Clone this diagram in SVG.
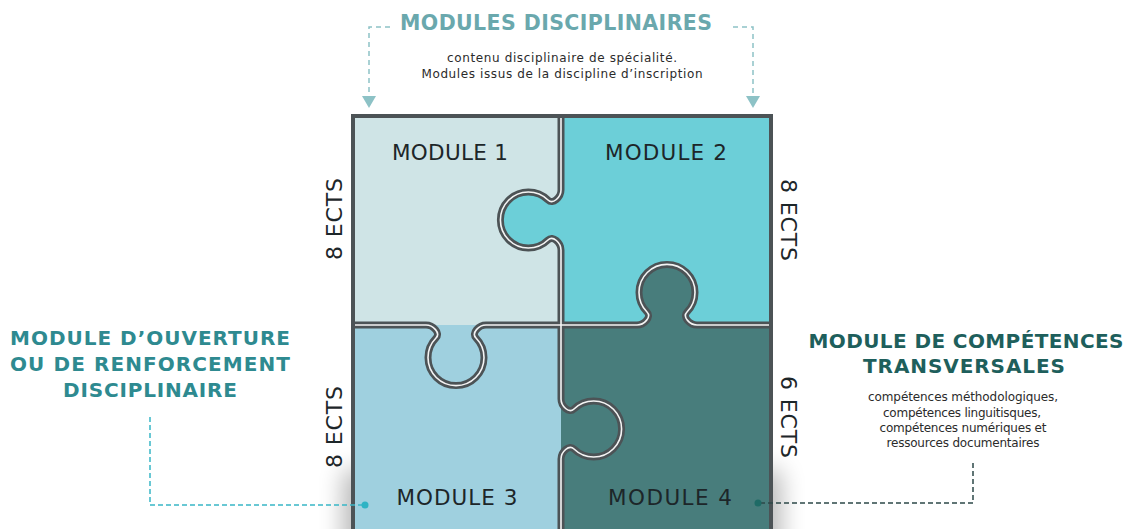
<svg xmlns="http://www.w3.org/2000/svg" width="1136" height="529" viewBox="0 0 1136 529">
<defs>
<style>
.mod{font-family:"DejaVu Sans","Liberation Sans",sans-serif;font-size:21.5px;fill:#1d2629;text-anchor:middle}
.ects{font-family:"DejaVu Sans","Liberation Sans",sans-serif;font-size:22px;fill:#1d2629;text-anchor:middle}
.title{font-family:"DejaVu Sans","Liberation Sans",sans-serif;font-weight:bold;font-size:20px;text-anchor:middle}
.small{font-family:"DejaVu Sans","Liberation Sans",sans-serif;font-size:12px;fill:#2b2b2b;text-anchor:middle}
.cutd{fill:none;stroke:#4c5356;stroke-width:7}
.cutw{fill:none;stroke:#f4f4f4;stroke-width:1.6}
.arrow{fill:#8dc2c6}
</style>
<filter id="blur" x="-50%" y="-50%" width="200%" height="200%"><feGaussianBlur stdDeviation="12"/></filter>
</defs>
<rect width="1136" height="529" fill="#ffffff"/>
<rect x="343" y="470" width="438" height="120" fill="#000" opacity="0.28" filter="url(#blur)"/>

<g id="header">
<text x="556" y="30" class="title" style="font-size:20.5px;fill:#6aa8ad" textLength="312">MODULES DISCIPLINAIRES</text>
<text x="562" y="62" class="small" textLength="230">contenu disciplinaire de spécialité.</text>
<text x="562" y="78" class="small" textLength="281">Modules issus de la discipline d’inscription</text>
</g>

<g id="puzzle">
<g id="module1">
<rect x="353" y="116" width="208" height="209" fill="#cfe4e6"/>
<path d="M456,325 H426 C433,325 441,333 436,338 A28,28 0 1 0 476,338 C471,333 479,325 486,325 Z" fill="#cfe4e6"/>
<text x="450" y="160" class="mod" textLength="116">MODULE 1</text>
</g>
<g id="module2">
<rect x="561" y="116" width="210" height="209" fill="#6ccfd8"/>
<path d="M561,190 C561,197 553,205 548,200 A28,28 0 1 0 548,240 C553,235 561,243 561,250 Z" fill="#6ccfd8"/>
<text x="666" y="160" class="mod" textLength="122">MODULE 2</text>
</g>
<g id="module3">
<rect x="353" y="325" width="208" height="240" fill="#9fd0df"/>
<path d="M561,399 C561,406 569,414 574,409 A28,28 0 1 1 574,449 C569,444 561,452 561,459 Z" fill="#9fd0df"/>
<text x="457" y="505" class="mod" textLength="121">MODULE 3</text>
</g>
<g id="module4">
<rect x="561" y="325" width="210" height="240" fill="#487d7c"/>
<path d="M637,325 C644,325 652,317 647,312 A28,28 0 1 1 687,312 C682,317 690,325 697,325 Z" fill="#487d7c"/>
<text x="670" y="505" class="mod" textLength="124">MODULE 4</text>
</g>
<g id="cuts">
<path class="cutd" d="M561,116 V190 C561,197 553,205 548,200 A28,28 0 1 0 548,240 C553,235 561,243 561,250 V325"/>
<path class="cutd" d="M561,325 H637 C644,325 652,317 647,312 A28,28 0 1 1 687,312 C682,317 690,325 697,325 H771"/>
<path class="cutd" d="M353,325 H426 C433,325 441,333 436,338 A28,28 0 1 0 476,338 C471,333 479,325 486,325 H561"/>
<path class="cutd" d="M561,325 V399 C561,406 569,414 574,409 A28,28 0 1 1 574,449 C569,444 561,452 561,459 V540"/>
<path class="cutw" d="M561,116 V190 C561,197 553,205 548,200 A28,28 0 1 0 548,240 C553,235 561,243 561,250 V325"/>
<path class="cutw" d="M561,325 H637 C644,325 652,317 647,312 A28,28 0 1 1 687,312 C682,317 690,325 697,325 H771"/>
<path class="cutw" d="M353,325 H426 C433,325 441,333 436,338 A28,28 0 1 0 476,338 C471,333 479,325 486,325 H561"/>
<path class="cutw" d="M561,325 V399 C561,406 569,414 574,409 A28,28 0 1 1 574,449 C569,444 561,452 561,459 V540"/>
</g>
<rect x="353" y="116" width="418" height="440" fill="none" stroke="#4c5356" stroke-width="4"/>
</g>

<g id="ects-labels">
<text class="ects" transform="translate(342,219) rotate(-90)" textLength="82">8 ECTS</text>
<text class="ects" transform="translate(342,427) rotate(-90)" textLength="82">8 ECTS</text>
<text class="ects" transform="translate(781,220) rotate(90)" textLength="82">8 ECTS</text>
<text class="ects" transform="translate(781,417) rotate(90)" textLength="82">6 ECTS</text>
</g>

<g id="label-ouverture">
<text x="150" y="345" class="title" style="fill:#2e8a90" textLength="280">MODULE D’OUVERTURE</text>
<text x="150" y="371" class="title" style="fill:#2e8a90" textLength="280">OU DE RENFORCEMENT</text>
<text x="150" y="397" class="title" style="fill:#2e8a90" textLength="174">DISCIPLINAIRE</text>
</g>

<g id="label-transversales">
<text x="966" y="348" class="title" style="fill:#1e5f5c" textLength="315">MODULE DE COMPÉTENCES</text>
<text x="964" y="373" class="title" style="fill:#1e5f5c" textLength="202">TRANSVERSALES</text>
<text x="963" y="401" class="small" textLength="190">compétences méthodologiques,</text>
<text x="962" y="416.5" class="small" textLength="158">compétences linguitisques,</text>
<text x="963" y="432" class="small" textLength="167">compétences numériques et</text>
<text x="963" y="447" class="small" textLength="153">ressources documentaires</text>
</g>

<g id="connectors">
<path d="M390,27 H369 V97" fill="none" stroke="#8dc2c6" stroke-width="1.5" stroke-dasharray="5,4"/>
<polygon class="arrow" points="362,96 376,96 369,108"/>
<path d="M733,27 H753 V97" fill="none" stroke="#8dc2c6" stroke-width="1.5" stroke-dasharray="5,4"/>
<polygon class="arrow" points="746,96 760,96 753,108"/>
<path d="M150,417 V505 H362" fill="none" stroke="#39b6c6" stroke-width="1.5" stroke-dasharray="5,3"/>
<circle cx="365" cy="505" r="3.5" fill="#2fb3c4"/>
<path d="M973,463 V503 H761" fill="none" stroke="#2c4848" stroke-width="1.5" stroke-dasharray="5,3"/>
<circle cx="758" cy="503" r="3.5" fill="#1f6b66"/>
</g>
</svg>
